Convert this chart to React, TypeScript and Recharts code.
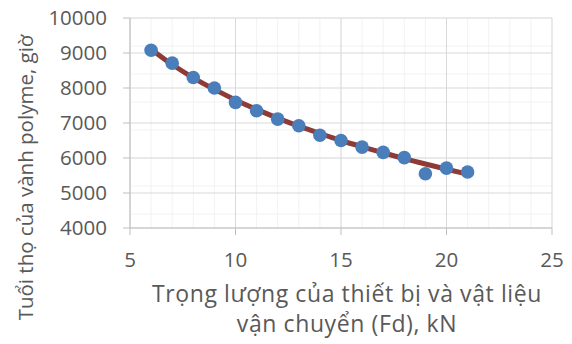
import React from "react";
import {
  ComposedChart,
  Scatter,
  Line,
  XAxis,
  YAxis,
  CartesianGrid,
  Label,
} from "recharts";

const loadKN = [6, 7, 8, 9, 10, 11, 12, 13, 14, 15, 16, 17, 18, 19, 20, 21];
const lifeHours = [9080, 8710, 8300, 8000, 7590, 7350, 7110, 6920, 6650, 6500, 6310, 6160, 6010, 5550, 5710, 5600];
const trendHours = [9110, 8670, 8290, 7960, 7660, 7390, 7140, 6910, 6700, 6500, 6320, 6150, 5980, 5830, 5680, 5540];

const xTicks = [5, 10, 15, 20, 25];
const yTicks = [4000, 5000, 6000, 7000, 8000, 9000, 10000];
const xMinor = [5, 6, 7, 8, 9, 10, 11, 12, 13, 14, 15, 16, 17, 18, 19, 20, 21, 22, 23, 24, 25];
const yMinor = [
  4000, 4200, 4400, 4600, 4800, 5000, 5200, 5400, 5600, 5800, 6000, 6200, 6400, 6600, 6800,
  7000, 7200, 7400, 7600, 7800, 8000, 8200, 8400, 8600, 8800, 9000, 9200, 9400, 9600, 9800, 10000,
];

const xTitle1 = "Trọng lượng của thiết bị và vật liệu";
const xTitle2 = "vận chuyển (Fd), kN";
const yTitle = "Tuổi thọ của vành polyme, giờ";

const points = loadKN.map((x, i) => ({ x, y: lifeHours[i] }));
const trend = loadKN.map((x, i) => ({ x, y: trendHours[i] }));

const FONT = "'Open Sans', 'Liberation Sans', Arial, sans-serif";
const TEXT = "#595959";
const AXIS = "#BFBFBF";

const Dot = (props: any) => (
  <circle cx={props.cx} cy={props.cy} r={6.8} fill="#4A7EBB" />
);

const XTitle = () => (
  <text fill={TEXT} fontSize={23} letterSpacing={0.6} fontFamily={FONT} textAnchor="middle">
    <tspan x={347} y={302}>{xTitle1}</tspan>
    <tspan x={347} y={332}>{xTitle2}</tspan>
  </text>
);

const YTitle = () => (
  <text
    fill={TEXT}
    fontSize={20.5}
    fontFamily={FONT}
    textAnchor="middle"
    x={33}
    y={177.5}
    transform="rotate(-90, 33, 177.5)"
  >
    {yTitle}
  </text>
);

export default function App() {
  return (
    <div style={{ position: "absolute", left: 0, top: 0, width: 572, height: 344, background: "#fff" }}>
      <ComposedChart
        width={572}
        height={344}
        margin={{ top: 18, right: 20, bottom: 0, left: 0 }}
        style={{ fontFamily: FONT }}
      >
        <CartesianGrid
          stroke="#F2F2F2"
          horizontalValues={yMinor}
          verticalValues={xMinor}
        />
        <CartesianGrid stroke="#D9D9D9" />
        <XAxis
          type="number"
          dataKey="x"
          domain={[5, 25]}
          ticks={xTicks}
          allowDataOverflow
          height={116}
          tickSize={7}
          tickMargin={17}
          axisLine={{ stroke: AXIS }}
          tickLine={{ stroke: AXIS }}
          tick={{ fill: TEXT, fontSize: 20.5, fontFamily: FONT }}
        >
          <Label content={XTitle} />
        </XAxis>
        <YAxis
          type="number"
          dataKey="y"
          domain={[4000, 10000]}
          ticks={yTicks}
          allowDataOverflow
          width={130}
          tickSize={7}
          tickMargin={16}
          axisLine={{ stroke: AXIS }}
          tickLine={{ stroke: AXIS }}
          tick={{ fill: TEXT, fontSize: 20.5, fontFamily: FONT }}
        >
          <Label content={YTitle} />
        </YAxis>
        <Scatter data={points} dataKey="y" shape={Dot} isAnimationActive={false} />
        <Line
          data={trend}
          dataKey="y"
          type="monotone"
          stroke="#8E3A36"
          strokeWidth={5}
          strokeLinecap="round"
          dot={false}
          activeDot={false}
          isAnimationActive={false}
        />
      </ComposedChart>
    </div>
  );
}
